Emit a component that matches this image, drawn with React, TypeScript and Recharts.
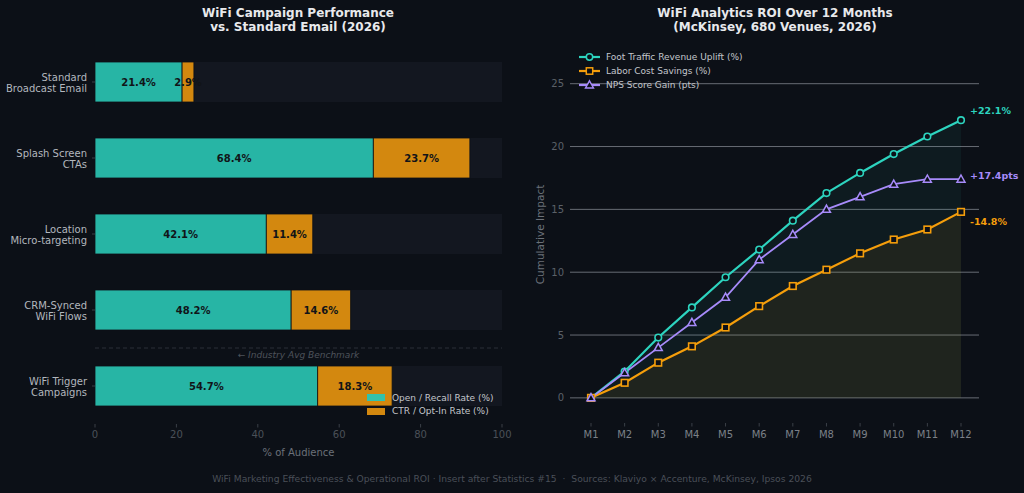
import React from 'react';
import {
  BarChart,
  Bar,
  XAxis,
  YAxis,
  ReferenceLine,
  LabelList,
  ComposedChart,
  Line,
  Area,
  CartesianGrid,
} from 'recharts';

const BG = '#0c1017';
const TRACK = '#131720';
const TEAL_BAR = '#27b5a5';
const ORANGE_BAR = '#d3880f';
const TEAL = '#2dd4bf';
const ORANGE = '#f59e0b';
const PURPLE = '#a78bfa';
const FONT = '"DejaVu Sans", Verdana, sans-serif';

// ---- Left chart data ----
const campaignNames = [
  'Standard\nBroadcast Email',
  'Splash Screen\nCTAs',
  'Location\nMicro-targeting',
  'CRM-Synced\nWiFi Flows',
  'WiFi Trigger\nCampaigns',
];
const openRate = [21.4, 68.4, 42.1, 48.2, 54.7];
const ctrRate = [2.9, 23.7, 11.4, 14.6, 18.3];
const audienceTicks = [0, 20, 40, 60, 80, 100];

// ---- Right chart data ----
const months = ['M1', 'M2', 'M3', 'M4', 'M5', 'M6', 'M7', 'M8', 'M9', 'M10', 'M11', 'M12'];
const footTraffic = [0, 2.1, 4.8, 7.2, 9.6, 11.8, 14.1, 16.3, 17.9, 19.4, 20.8, 22.1];
const laborSavings = [0, 1.2, 2.8, 4.1, 5.6, 7.3, 8.9, 10.2, 11.5, 12.6, 13.4, 14.8];
const npsGain = [0, 2.0, 4.0, 6.0, 8.0, 11.0, 13.0, 15.0, 16.0, 17.0, 17.4, 17.4];
const impactTicks = [0, 5, 10, 15, 20, 25];

const barData = campaignNames.map((name, i) => ({ name, open: openRate[i], ctr: ctrRate[i] }));
const lineData = months.map((month, i) => ({
  month,
  foot: footTraffic[i],
  labor: laborSavings[i],
  nps: npsGain[i],
}));
const LAST = months.length - 1;

const CatTick = (props: any) => {
  const { x, y, payload } = props;
  const lines = String(payload.value).split('\n');
  return (
    <text x={x} y={y} textAnchor="end" fill="#b3b7be" fontSize={10} fontFamily={FONT}>
      {lines.map((l, i) => (
        <tspan key={i} x={x} dy={i === 0 ? -1 : 11}>
          {l}
        </tspan>
      ))}
    </text>
  );
};

const CircleDot = (p: any) =>
  p.cx == null ? <g key={p.index} /> : (
    <circle key={p.index} cx={p.cx} cy={p.cy} r={3.3} fill={BG} stroke={TEAL} strokeWidth={1.6} />
  );
const SquareDot = (p: any) =>
  p.cx == null ? <g key={p.index} /> : (
    <rect key={p.index} x={p.cx - 3.3} y={p.cy - 3.3} width={6.6} height={6.6} fill={BG} stroke={ORANGE} strokeWidth={1.6} />
  );
const TriDot = (p: any) =>
  p.cx == null ? <g key={p.index} /> : (
    <path
      key={p.index}
      d={`M${p.cx},${p.cy - 4.2} L${p.cx + 4},${p.cy + 3} L${p.cx - 4},${p.cy + 3} Z`}
      fill={BG}
      stroke={PURPLE}
      strokeWidth={1.5}
    />
  );

const endLabel = (color: string, text: string, dy: number) => (p: any) =>
  p.index === LAST ? (
    <text
      key="end"
      x={p.x + 9}
      y={p.y + dy}
      fill={color}
      fontSize={9.5}
      fontWeight="bold"
      fontFamily={FONT}
      dominantBaseline="central"
    >
      {text}
    </text>
  ) : (
    <g key={p.index} />
  );

const titleStyle: React.CSSProperties = {
  position: 'absolute',
  top: 6,
  width: 400,
  textAlign: 'center',
  color: '#e8e9ec',
  fontWeight: 'bold',
  fontSize: 12,
  lineHeight: '14px',
  fontFamily: FONT,
  whiteSpace: 'pre',
};

const legendText: React.CSSProperties = {
  fontSize: 9,
  color: '#c3c6cc',
  fontFamily: FONT,
  whiteSpace: 'nowrap',
};

export default function App() {
  return (
    <div
      style={{
        position: 'absolute',
        left: 0,
        top: 0,
        width: 1024,
        height: 493,
        background: BG,
        overflow: 'hidden',
        fontFamily: FONT,
      }}
    >
      <div style={{ ...titleStyle, left: 98 }}>{'WiFi Campaign Performance\nvs. Standard Email (2026)'}</div>
      <div style={{ ...titleStyle, left: 575 }}>{'WiFi Analytics ROI Over 12 Months\n(McKinsey, 680 Venues, 2026)'}</div>

      {/* Left chart */}
      <div style={{ position: 'absolute', left: 0, top: 0 }}>
        <BarChart
          width={512}
          height={493}
          data={barData}
          layout="vertical"
          margin={{ top: 44, right: 10, bottom: 29, left: 0 }}
        >
          <XAxis
            type="number"
            domain={[0, 100]}
            ticks={audienceTicks}
            axisLine={false}
            tickSize={3.5}
            tickMargin={3}
            tickLine={{ stroke: '#3a3f47' }}
            tick={{ fill: '#4b5058', fontSize: 10, fontFamily: FONT }}
            height={40}
            label={{
              value: '% of Audience',
              position: 'insideBottom',
              offset: 8,
              fill: '#6b7079',
              fontSize: 10,
              fontFamily: FONT,
            }}
          />
          <YAxis
            type="category"
            dataKey="name"
            width={95}
            axisLine={false}
            tickSize={3}
            tickMargin={5}
            tickLine={{ stroke: '#3a3f47' }}
            tick={<CatTick />}
          />
          <Bar
            dataKey="open"
            stackId="a"
            barSize={40}
            fill={TEAL_BAR}
            stroke={BG}
            strokeWidth={0.8}
            background={{ fill: TRACK }}
            isAnimationActive={false}
          >
            <LabelList
              dataKey="open"
              position="center"
              formatter={(v: any) => `${Number(v).toFixed(1)}%`}
              fill="#111418"
              fontSize={10}
              fontWeight="bold"
              fontFamily={FONT}
            />
          </Bar>
          <Bar
            dataKey="ctr"
            stackId="a"
            barSize={40}
            fill={ORANGE_BAR}
            stroke={BG}
            strokeWidth={0.8}
            isAnimationActive={false}
          >
            <LabelList
              dataKey="ctr"
              position="center"
              formatter={(v: any) => `${Number(v).toFixed(1)}%`}
              fill="#111418"
              fontSize={10}
              fontWeight="bold"
              fontFamily={FONT}
            />
          </Bar>
          <ReferenceLine
            y={campaignNames[4]}
            position="start"
            stroke="#2a2f38"
            strokeDasharray="4 3"
            label={{
              value: '← Industry Avg Benchmark',
              position: 'bottom',
              offset: 4,
              fill: '#4e535b',
              fontSize: 9,
              fontStyle: 'italic',
              fontFamily: FONT,
            }}
          />
        </BarChart>
      </div>

      {/* Left legend */}
      <div style={{ position: 'absolute', left: 367, top: 391 }}>
        {[
          { c: '#33c2ab', t: 'Open / Recall Rate (%)' },
          { c: ORANGE_BAR, t: 'CTR / Opt-In Rate (%)' },
        ].map((it) => (
          <div key={it.t} style={{ display: 'flex', alignItems: 'center', height: 13.5 }}>
            <div style={{ width: 18, height: 7, background: it.c, marginRight: 7 }} />
            <span style={legendText}>{it.t}</span>
          </div>
        ))}
      </div>

      {/* Right chart */}
      <div style={{ position: 'absolute', left: 512, top: 0 }}>
        <ComposedChart
          width={512}
          height={493}
          data={lineData}
          margin={{ top: 46, right: 45, bottom: 40, left: 0 }}
        >
          <CartesianGrid
            vertical={false}
            horizontalValues={impactTicks}
            stroke="#686c74"
            strokeWidth={1}
          />
          <XAxis
            dataKey="month"
            scale="point"
            padding={{ left: 21, right: 18 }}
            axisLine={false}
            tickSize={3.5}
            tickMargin={4}
            tickLine={{ stroke: '#3a3f47' }}
            tick={{ fill: '#7b8088', fontSize: 10, fontFamily: FONT }}
            height={30}
          />
          <YAxis
            type="number"
            domain={[-2, 28]}
            ticks={impactTicks}
            width={58}
            axisLine={false}
            tickLine={false}
            tickSize={4}
            tickMargin={2}
            tick={{ fill: '#5b6068', fontSize: 10, fontFamily: FONT }}
            label={{
              value: 'Cumulative Impact',
              angle: -90,
              position: 'center',
              dx: -1,
              fill: '#6b7079',
              fontSize: 10.5,
              fontFamily: FONT,
            }}
          />
          <Area
            type="linear"
            dataKey="foot"
            stroke="none"
            fill={TEAL}
            fillOpacity={0.06}
            baseValue={0}
            isAnimationActive={false}
          />
          <Area
            type="linear"
            dataKey="labor"
            stroke="none"
            fill={ORANGE}
            fillOpacity={0.08}
            baseValue={0}
            isAnimationActive={false}
          />
          <Line
            type="linear"
            dataKey="foot"
            stroke={TEAL}
            strokeWidth={2.2}
            dot={CircleDot}
            activeDot={false}
            label={endLabel(TEAL, `+${footTraffic[LAST].toFixed(1)}%`, -10)}
            isAnimationActive={false}
          />
          <Line
            type="linear"
            dataKey="labor"
            stroke={ORANGE}
            strokeWidth={2.2}
            dot={SquareDot}
            activeDot={false}
            label={endLabel(ORANGE, `-${laborSavings[LAST].toFixed(1)}%`, 9.5)}
            isAnimationActive={false}
          />
          <Line
            type="linear"
            dataKey="nps"
            stroke={PURPLE}
            strokeWidth={1.8}
            dot={TriDot}
            activeDot={false}
            label={endLabel(PURPLE, `+${npsGain[LAST].toFixed(1)}pts`, -3.5)}
            isAnimationActive={false}
          />
        </ComposedChart>
      </div>

      {/* Right legend */}
      <div style={{ position: 'absolute', left: 578, top: 50 }}>
        {[
          { c: TEAL, t: 'Foot Traffic Revenue Uplift (%)', m: 'c' },
          { c: ORANGE, t: 'Labor Cost Savings (%)', m: 's' },
          { c: PURPLE, t: 'NPS Score Gain (pts)', m: 't' },
        ].map((it) => (
          <div key={it.t} style={{ display: 'flex', alignItems: 'center', height: 14 }}>
            <svg width={24} height={12} style={{ marginRight: 4 }}>
              <line x1={1} y1={6} x2={22} y2={6} stroke={it.c} strokeWidth={2.2} />
              {it.m === 'c' && <circle cx={11.5} cy={6} r={3.2} fill={BG} stroke={it.c} strokeWidth={1.5} />}
              {it.m === 's' && <rect x={8.3} y={2.8} width={6.4} height={6.4} fill={BG} stroke={it.c} strokeWidth={1.5} />}
              {it.m === 't' && <path d="M11.5,1.8 L15.5,9 L7.5,9 Z" fill={BG} stroke={it.c} strokeWidth={1.4} />}
            </svg>
            <span style={legendText}>{it.t}</span>
          </div>
        ))}
      </div>

      {/* Footer */}
      <div
        style={{
          position: 'absolute',
          left: 0,
          top: 473,
          width: 1024,
          textAlign: 'center',
          fontSize: 9.2,
          color: '#4a4f57',
          fontFamily: FONT,
          whiteSpace: 'pre',
        }}
      >
        {'WiFi Marketing Effectiveness & Operational ROI · Insert after Statistics #15  ·  Sources: Klaviyo × Accenture, McKinsey, Ipsos 2026'}
      </div>
    </div>
  );
}
